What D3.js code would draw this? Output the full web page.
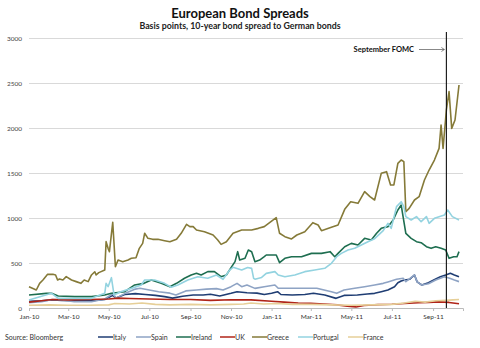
<!DOCTYPE html>
<html><head><meta charset="utf-8">
<script src="https://cdn.jsdelivr.net/npm/d3@7"></script>
<style>
html,body{margin:0;padding:0;background:#fff;}
svg{display:block;font-family:Lato,"Open Sans",sans-serif;}
</style></head>
<body>
<svg id="chart" width="480" height="348"></svg>
<script>
const title = "European Bond Spreads";
const subtitle = "Basis points, 10-year bond spread to German bonds";
const source = "Source: Bloomberg";
const eventLabel = "September FOMC";
const eventDate = "2011-09-21";
const yTicks = [0, 500, 1000, 1500, 2000, 2500, 3000];
const xTicks = ["2010-01-01","2010-03-01","2010-05-01","2010-07-01","2010-09-01","2010-11-01",
                "2011-01-01","2011-03-01","2011-05-01","2011-07-01","2011-09-01"];
const seriesNames = ["Italy","Spain","Ireland","UK","Greece","Portugal","France"];
const seriesColors = ["#1f3d73","#8ea3c4","#1e6e50","#b02418","#857a38","#93d3e0","#e6cf98"];

const italy = [["2010-01-01",75],["2010-01-20",80],["2010-02-05",90],["2010-02-20",85],["2010-03-10",80],["2010-04-05",80],["2010-04-25",95],["2010-05-07",140],["2010-05-12",110],["2010-05-25",150],["2010-06-10",160],["2010-06-25",150],["2010-07-10",140],["2010-07-24",126],["2010-08-05",110],["2010-08-20",130],["2010-09-05",144],["2010-09-20",144],["2010-10-01",152],["2010-10-15",133],["2010-11-01",163],["2010-11-10",181],["2010-11-25",170],["2010-12-10",165],["2010-12-21",150],["2011-01-01",163],["2011-01-10",181],["2011-01-15",150],["2011-02-01",144],["2011-02-20",150],["2011-03-05",163],["2011-03-22",144],["2011-04-08",107],["2011-04-20",140],["2011-05-10",144],["2011-05-25",155],["2011-06-05",163],["2011-06-15",181],["2011-06-25",200],["2011-07-05",237],["2011-07-10",280],["2011-07-15",300],["2011-07-20",311],["2011-07-28",320],["2011-08-04",367],["2011-08-08",290],["2011-08-15",256],["2011-08-25",280],["2011-09-02",311],["2011-09-12",348],["2011-09-20",367],["2011-09-27",385],["2011-10-03",367],["2011-10-10",348]];
const spain = [["2010-01-01",60],["2010-01-20",70],["2010-02-05",95],["2010-02-20",90],["2010-03-10",70],["2010-04-05",70],["2010-04-25",100],["2010-05-07",160],["2010-05-12",110],["2010-05-25",160],["2010-06-10",210],["2010-06-17",220],["2010-07-01",200],["2010-07-15",180],["2010-08-01",165],["2010-08-10",144],["2010-08-25",190],["2010-09-10",200],["2010-09-25",210],["2010-10-10",215],["2010-10-20",200],["2010-11-01",237],["2010-11-10",274],["2010-11-17",237],["2010-11-25",256],["2010-12-07",218],["2010-12-21",237],["2011-01-06",256],["2011-01-11",219],["2011-02-05",219],["2011-02-20",219],["2011-03-10",219],["2011-04-01",181],["2011-04-09",163],["2011-04-20",200],["2011-05-06",219],["2011-05-21",237],["2011-06-05",256],["2011-06-18",274],["2011-06-25",290],["2011-07-08",320],["2011-07-18",330],["2011-07-22",293],["2011-08-04",367],["2011-08-08",290],["2011-08-15",256],["2011-08-25",270],["2011-09-05",311],["2011-09-18",348],["2011-09-26",330],["2011-10-03",310],["2011-10-10",293]];
const ireland = [["2010-01-01",144],["2010-01-27",163],["2010-02-04",163],["2010-02-14",133],["2010-03-11",126],["2010-04-05",126],["2010-04-25",144],["2010-05-05",163],["2010-05-25",181],["2010-06-09",256],["2010-06-23",274],["2010-07-04",311],["2010-07-19",274],["2010-08-01",237],["2010-08-11",274],["2010-08-23",330],["2010-09-02",367],["2010-09-10",385],["2010-09-17",367],["2010-09-27",404],["2010-10-07",404],["2010-10-17",348],["2010-10-25",367],["2010-11-02",459],["2010-11-07",515],["2010-11-11",626],["2010-11-14",533],["2010-11-22",552],["2010-11-27",644],["2010-12-02",626],["2010-12-07",515],["2010-12-14",533],["2010-12-21",570],["2010-12-24",589],["2011-01-08",589],["2011-01-13",504],["2011-01-21",552],["2011-01-31",570],["2011-02-15",570],["2011-03-02",607],["2011-03-17",607],["2011-03-30",626],["2011-04-06",570],["2011-04-11",607],["2011-04-21",681],["2011-05-01",718],["2011-05-11",700],["2011-05-21",774],["2011-05-31",756],["2011-06-08",830],["2011-06-15",885],["2011-06-25",904],["2011-07-03",978],["2011-07-10",1089],["2011-07-15",1144],["2011-07-22",830],["2011-07-30",774],["2011-08-07",737],["2011-08-14",726],["2011-08-22",681],["2011-08-29",663],["2011-09-05",681],["2011-09-13",663],["2011-09-20",644],["2011-09-25",552],["2011-10-02",570],["2011-10-07",570],["2011-10-10",626]];
const uk = [["2010-01-01",65],["2010-01-20",80],["2010-02-05",95],["2010-03-01",90],["2010-04-01",95],["2010-05-01",100],["2010-05-15",110],["2010-06-01",105],["2010-07-01",100],["2010-08-01",95],["2010-09-01",95],["2010-10-01",85],["2010-11-01",92],["2010-12-01",90],["2011-01-01",75],["2011-01-20",65],["2011-02-10",55],["2011-03-01",52],["2011-03-20",45],["2011-04-10",35],["2011-04-25",20],["2011-05-08",12],["2011-05-20",28],["2011-06-10",38],["2011-07-01",42],["2011-07-20",50],["2011-08-10",58],["2011-08-25",62],["2011-09-10",68],["2011-09-25",62],["2011-10-10",48]];
const greece = [["2010-01-01",237],["2010-01-12",200],["2010-01-17",274],["2010-01-22",311],["2010-01-29",374],["2010-02-06",374],["2010-02-10",367],["2010-02-13",311],["2010-02-16",322],["2010-02-21",311],["2010-02-26",348],["2010-03-06",311],["2010-03-13",293],["2010-03-20",274],["2010-03-25",311],["2010-03-31",293],["2010-04-05",367],["2010-04-10",403],["2010-04-12",367],["2010-04-16",393],["2010-04-25",422],["2010-04-27",737],["2010-04-30",663],["2010-05-02",626],["2010-05-07",952],["2010-05-11",459],["2010-05-15",533],["2010-05-22",515],["2010-05-30",533],["2010-06-04",552],["2010-06-11",559],["2010-06-16",663],["2010-06-21",718],["2010-06-24",830],["2010-06-29",774],["2010-07-06",763],["2010-07-14",763],["2010-07-24",748],["2010-08-01",737],["2010-08-11",763],["2010-08-18",830],["2010-08-26",930],["2010-08-31",904],["2010-09-05",904],["2010-09-10",867],["2010-09-22",848],["2010-10-05",811],["2010-10-12",756],["2010-10-17",707],["2010-10-25",737],["2010-11-04",830],["2010-11-17",867],["2010-12-02",867],["2010-12-12",885],["2010-12-21",904],["2011-01-08",1004],["2011-01-13",830],["2011-01-21",793],["2011-01-31",767],["2011-02-08",811],["2011-02-20",848],["2011-03-04",948],["2011-03-12",922],["2011-03-17",859],["2011-04-01",896],["2011-04-11",922],["2011-04-21",1096],["2011-04-30",1181],["2011-05-11",1163],["2011-05-21",1293],["2011-05-29",1237],["2011-06-05",1200],["2011-06-15",1496],["2011-06-23",1515],["2011-06-29",1367],["2011-07-04",1367],["2011-07-10",1607],["2011-07-15",1644],["2011-07-19",1626],["2011-07-22",1070],["2011-07-27",1107],["2011-08-04",1200],["2011-08-11",1237],["2011-08-19",1422],["2011-08-26",1533],["2011-09-03",1644],["2011-09-10",1774],["2011-09-13",2033],["2011-09-16",1774],["2011-09-21",2200],["2011-09-25",2404],["2011-09-29",1996],["2011-10-04",2089],["2011-10-10",2478]];
const portugal = [["2010-01-01",89],["2010-02-04",163],["2010-02-14",107],["2010-04-05",107],["2010-04-25",163],["2010-04-27",274],["2010-04-30",237],["2010-05-05",337],["2010-05-09",144],["2010-05-19",181],["2010-06-04",218],["2010-06-19",256],["2010-06-24",311],["2010-07-09",311],["2010-07-24",274],["2010-08-03",230],["2010-08-13",256],["2010-08-28",311],["2010-09-12",348],["2010-09-27",330],["2010-10-10",367],["2010-10-20",319],["2010-10-30",422],["2010-11-04",452],["2010-11-17",422],["2010-11-26",450],["2010-12-02",440],["2010-12-05",330],["2010-12-07",320],["2010-12-17",340],["2010-12-24",385],["2011-01-06",404],["2011-01-11",367],["2011-01-21",348],["2011-02-05",367],["2011-02-20",404],["2011-03-07",422],["2011-03-22",441],["2011-04-01",496],["2011-04-09",570],["2011-04-16",607],["2011-04-26",644],["2011-05-06",663],["2011-05-16",700],["2011-05-26",737],["2011-06-05",770],["2011-06-18",860],["2011-06-25",941],["2011-06-30",885],["2011-07-08",1126],["2011-07-15",1181],["2011-07-19",1126],["2011-07-22",1015],["2011-07-30",978],["2011-08-07",1015],["2011-08-14",959],["2011-08-22",1015],["2011-08-26",941],["2011-09-03",996],["2011-09-10",1015],["2011-09-18",1033],["2011-09-23",1089],["2011-09-30",1015],["2011-10-10",978]];
const france = [["2010-01-01",30],["2010-02-01",35],["2010-03-01",30],["2010-04-01",30],["2010-05-01",35],["2010-05-10",50],["2010-06-01",45],["2010-06-20",55],["2010-07-10",40],["2010-08-01",35],["2010-09-01",40],["2010-10-01",35],["2010-11-01",40],["2010-11-20",45],["2010-12-01",55],["2010-12-20",45],["2011-01-10",50],["2011-02-01",40],["2011-03-01",40],["2011-04-01",35],["2011-05-01",30],["2011-06-01",35],["2011-07-01",40],["2011-07-20",55],["2011-08-05",75],["2011-08-20",65],["2011-09-05",80],["2011-09-20",85],["2011-10-01",90],["2011-10-10",95]];

const seriesData = [italy, spain, ireland, uk, greece, portugal, france];

const parse = d3.timeParse("%Y-%m-%d");
const fmt = d3.timeFormat("%b-%y");
const svg = d3.select("#chart");

const x = d3.scaleTime().domain([parse("2010-01-01"), parse("2011-10-16")]).range([29, 463]);
const y = d3.scaleLinear().domain([0, 3000]).range([308, 38]);

// title
svg.append("text").attr("x", 240).attr("y", 18).attr("text-anchor", "middle")
  .attr("font-size", 13).attr("font-weight", "bold").attr("fill", "#111").text(title);
svg.append("text").attr("x", 240).attr("y", 29).attr("text-anchor", "middle")
  .attr("font-size", 8.8).attr("font-weight", "bold").attr("fill", "#222").text(subtitle);

// grid
const yAxis = d3.axisLeft(y).tickValues(yTicks).tickFormat(d3.format("d")).tickSize(-(463 - 29)).tickPadding(7);
const gy = svg.append("g").attr("transform", "translate(29,0)").call(yAxis);
gy.select(".domain").remove();
gy.selectAll(".tick line").attr("stroke", "#d9d9d9").attr("stroke-width", 1);
gy.selectAll(".tick text").attr("font-size", 6.5).attr("fill", "#444").attr("font-family", "Lato,sans-serif");

const xAxis = d3.axisBottom(x).tickValues(xTicks.map(parse)).tickFormat(fmt).tickSize(3).tickPadding(3);
const gx = svg.append("g").attr("transform", "translate(0,308)").call(xAxis);
gx.select(".domain").attr("stroke", "#bbb");
gx.selectAll(".tick line").attr("stroke", "#bbb");
gx.selectAll(".tick text").attr("font-size", 6.5).attr("fill", "#333").attr("font-family", "Lato,sans-serif");

// lines
const line = d3.line().x(d => x(parse(d[0]))).y(d => y(d[1])).curve(d3.curveLinear);
seriesData.forEach((s, i) => {
  svg.append("path").datum(s).attr("d", line).attr("fill", "none")
    .attr("stroke", seriesColors[i]).attr("stroke-width", 1.6).attr("stroke-linejoin", "round");
});

// event line
const ex = x(parse(eventDate));
svg.append("line").attr("x1", ex).attr("x2", ex).attr("y1", 32).attr("y2", 308)
  .attr("stroke", "#111").attr("stroke-width", 1.1);
svg.append("text").attr("x", 414).attr("y", 52).attr("text-anchor", "end")
  .attr("font-size", 7.5).attr("font-weight", "bold").attr("fill", "#111").text(eventLabel);
svg.append("line").attr("x1", 419).attr("x2", ex - 2).attr("y1", 49.5).attr("y2", 49.5)
  .attr("stroke", "#555").attr("stroke-width", 0.7);
svg.append("path").attr("d", `M${ex-5},47.5 L${ex-2},49.5 L${ex-5},51.5`)
  .attr("fill", "none").attr("stroke", "#555").attr("stroke-width", 0.7);

// source
svg.append("text").attr("x", 5).attr("y", 340).attr("font-size", 7).attr("fill", "#333").text(source);

// legend
const legendX = [98, 136, 176, 220, 252, 298, 348];
const lg = svg.append("g");
seriesNames.forEach((n, i) => {
  const g = lg.append("g").attr("transform", `translate(${legendX[i]},337)`);
  g.append("line").attr("x1", 0).attr("x2", 15).attr("y1", 0).attr("y2", 0)
    .attr("stroke", seriesColors[i]).attr("stroke-width", 1.5);
  g.append("text").attr("x", 15).attr("y", 2.5).attr("font-size", 7).attr("fill", "#333").text(n);
});
</script>
</body></html>
